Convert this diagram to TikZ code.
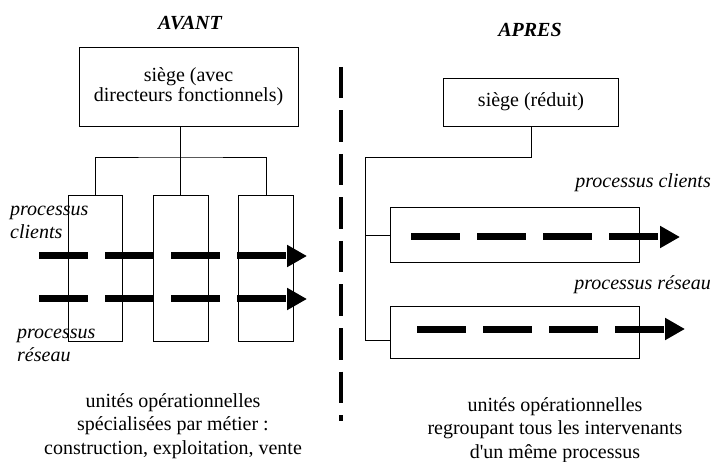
\documentclass[tikz,border=0pt]{standalone}
\usepackage{fontspec}
\setmainfont{Liberation Serif}
\usetikzlibrary{arrows.meta}

\tikzset{
  boite/.style={draw,line width=0.8pt,inner sep=0pt,align=center,font=\fontsize{20}{20}\selectfont},
  lien/.style={line width=0.8pt},
  flux/.style={line width=7pt,dash pattern=on 49pt off 17pt,-{Triangle[length=20pt,width=21pt]}},
  titre/.style={font=\fontsize{20}{24}\selectfont\bfseries\itshape},
  legende/.style={align=center,font=\fontsize{20}{23.5}\selectfont},
  proc/.style={align=left,inner sep=0pt,font=\fontsize{20}{23}\selectfont\itshape},
}

\begin{document}
\begin{tikzpicture}[x=1pt,y=-1pt]
\useasboundingbox (0,0) rectangle (712,462);

% avant
\node[titre] (tavant) at (190,23) {AVANT};
\node[boite,minimum width=219pt,minimum height=79pt] (siege) at (188.5,86.5) {siège (avec\\directeurs fonctionnels)};
\node[boite,minimum width=54pt,minimum height=146pt] (u1) at (95,268) {};
\node[boite,minimum width=55pt,minimum height=146pt] (u2) at (180.5,268) {};
\node[boite,minimum width=55pt,minimum height=146pt] (u3) at (266,268) {};
\coordinate (lbus) at (180.5,157);
\draw[lien] (u2.north) -- (u2.north |- siege.south);
\draw[lien] (u1.north) |- (lbus) -| (u3.north);

\node[proc,anchor=west] (pcl) at (10,222) {processus\\clients};
\node[proc,anchor=west] (prl) at (17,345) {processus\\réseau};

\coordinate (a1) at (39,256);  \coordinate (b1) at (307,256);
\coordinate (a2) at (39,299);  \coordinate (b2) at (307,299);
\draw[flux] (a1) -- (b1);
\draw[flux] (a2) -- (b2);

\node[legende] (lavant) at (173,426) {unités opérationnelles\\spécialisées par métier :\\construction, exploitation, vente};

% separation
\coordinate (s1) at (341,67);
\coordinate (s2) at (341,421);
\draw[line width=4pt,dash pattern=on 31.5pt off 12pt] (s1) -- (s2);

% apres
\node[titre] (tapres) at (530,30) {APRES};
\node[boite,minimum width=175pt,minimum height=48pt] (siege2) at (531,102) {siège (réduit)};
\node[boite,minimum width=249pt,minimum height=55pt] (r1) at (514.5,235) {};
\node[boite,minimum width=249pt,minimum height=52pt] (r2) at (514.5,332.5) {};
\coordinate (rbus) at (365,157);
\draw[lien] (siege2.south) |- (rbus) |- ([yshift=-7.5pt]r2.west);
\draw[lien] (rbus |- r1.west) -- (r1.west);

\node[proc,anchor=east] (pcr) at (711,183) {processus clients};
\node[proc,anchor=east] (prr) at (711,285) {processus réseau};

\coordinate (a3) at (411,237);  \coordinate (b3) at (680,237);
\coordinate (a4) at (417,329);  \coordinate (b4) at (685,329);
\draw[flux] (a3) -- (b3);
\draw[flux] (a4) -- (b4);

\node[legende] (lapres) at (555,430) {unités opérationnelles\\regroupant tous les intervenants\\d\textquotesingle un même processus};
\end{tikzpicture}
\end{document}
